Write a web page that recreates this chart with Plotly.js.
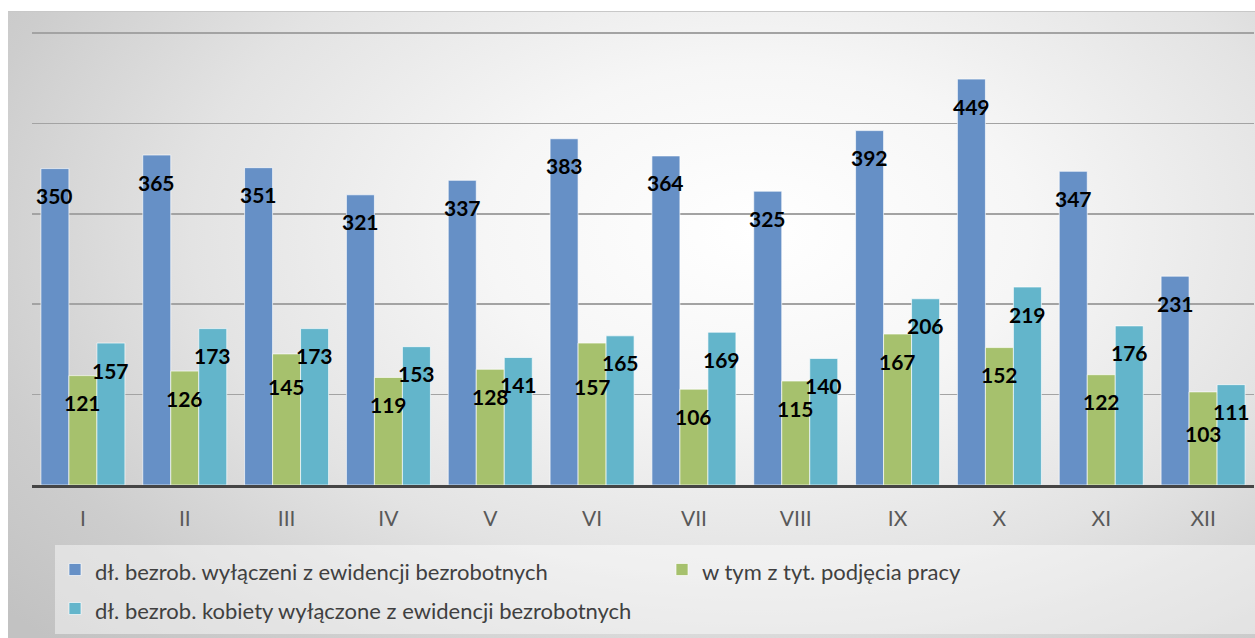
<!DOCTYPE html>
<html>
<head>
<meta charset="utf-8">
<script src="https://cdn.plot.ly/plotly-3.0.1.min.js"></script>
<style>
  html, body { margin: 0; padding: 0; background: #ffffff; }
  #bg { position: absolute; left: 8px; top: 11px; width: 1247px; height: 627px;
        background: radial-gradient(ellipse 78% 95% at 60% 35%, #ffffff 0%, #f6f6f6 28%, #e3e3e3 58%, #cdcdcd 82%, #c2c2c2 100%);
        border-top: 1px solid #c8c8c8; }
  #chart { position: absolute; left: 0; top: 0; width: 1255px; height: 638px; }
</style>
</head>
<body>
<div id="bg"></div>
<div id="chart"></div>
<script>
const months = ['I','II','III','IV','V','VI','VII','VIII','IX','X','XI','XII'];
const seriesNames = [
  'dł. bezrob. wyłączeni z ewidencji bezrobotnych',
  'w tym z tyt. podjęcia pracy',
  'dł. bezrob. kobiety wyłączone z ewidencji bezrobotnych'
];
const wylaczeni = [350,365,351,321,337,383,364,325,392,449,347,231];
const podjeciePracy = [121,126,145,119,128,157,106,115,167,152,122,103];
const kobiety = [157,173,173,153,141,165,169,140,206,219,176,111];

const colors = ['#6690c6', '#a6c16d', '#63b5cb'];
const seriesValues = [wylaczeni, podjeciePracy, kobiety];

// extra downward nudges (px) for a few labels that sit lower in the original
const labelNudge = { '1-2': -6, '1-5': -16, '1-11': -15 };

const bargap = 0.175;
const traces = seriesValues.map((vals, j) => ({
  type: 'bar',
  name: '<span style="font-size:22px">' + seriesNames[j] + '</span>',
  x: months,
  y: vals,
  marker: { color: colors[j], line: { color: 'rgba(255,255,255,0.65)', width: 1 } },
  hoverinfo: 'none'
}));

const annotations = [];
const slot = (1 - bargap) / 3;
seriesValues.forEach((vals, j) => {
  vals.forEach((v, i) => {
    annotations.push({
      x: i + (j - 1) * slot,
      y: v,
      xref: 'x', yref: 'y',
      text: String(v),
      showarrow: false,
      xanchor: 'center', yanchor: 'middle',
      yshift: -27 + (labelNudge[j + '-' + i] || 0),
      font: { family: 'Lato, "Open Sans", sans-serif', size: 21, color: '#000000', weight: 700 }
    });
  });
});

const layout = {
  width: 1255, height: 638,
  margin: { l: 32, r: 1, t: 30, b: 153, pad: 0 },
  paper_bgcolor: 'rgba(0,0,0,0)',
  plot_bgcolor: 'rgba(0,0,0,0)',
  barmode: 'group',
  bargap: bargap,
  bargroupgap: 0,
  showlegend: true,
  xaxis: {
    type: 'category',
    showline: true, linecolor: '#454545', linewidth: 3,
    showgrid: false, zeroline: false,
    ticks: '', ticklabelstandoff: 13,
    tickfont: { family: 'Lato, sans-serif', size: 21, color: '#595959' }
  },
  yaxis: {
    range: [0, 503.3], dtick: 100, tick0: 0,
    showticklabels: false, ticks: '',
    showgrid: true, gridcolor: '#a3a3a3', gridwidth: 1.5,
    zeroline: false, showline: false
  },
  legend: {
    orientation: 'h',
    xref: 'container', yref: 'container',
    x: 55 / 1255, y: 1 - 545 / 638,
    xanchor: 'left', yanchor: 'top',
    entrywidth: 562, entrywidthmode: 'pixels',
    bgcolor: 'rgba(255,255,255,0.45)',
    font: { family: 'Lato, sans-serif', size: 27.7, color: '#404040' },
    traceorder: 'normal'
  },
  annotations: annotations
};

Plotly.newPlot('chart', traces, layout, { staticPlot: true, displayModeBar: false });
</script>
</body>
</html>
